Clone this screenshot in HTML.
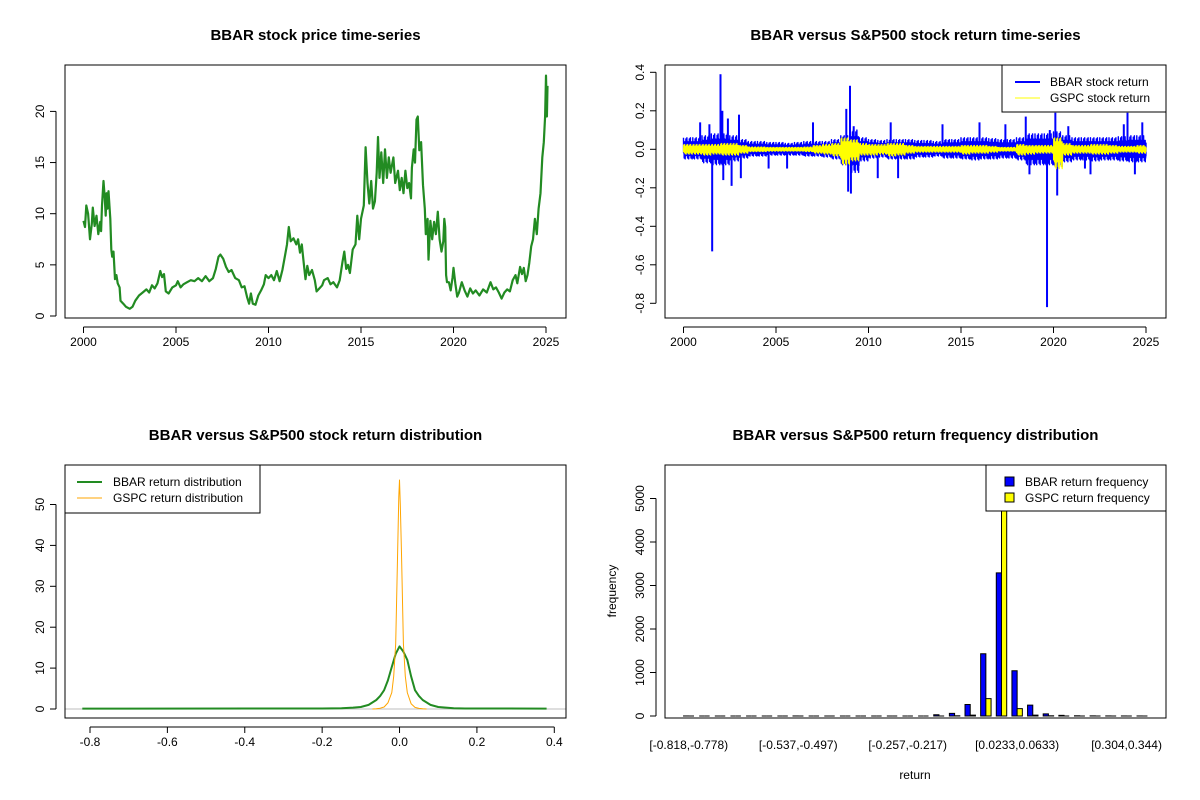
<!DOCTYPE html>
<html><head><meta charset="utf-8"><style>
html,body{margin:0;padding:0;background:#fff;}
svg{display:block;font-family:"Liberation Sans",Arial,sans-serif;}
</style></head><body>
<svg id="chart" width="1200" height="800" viewBox="0 0 1200 800">
<rect width="1200" height="800" fill="#fff"/>
</svg>
<script>
// ---------- DATA ----------
const priceYears=[2000.0,2000.08,2000.15,2000.25,2000.35,2000.45,2000.5,2000.6,2000.7,2000.8,2000.9,2000.95,2001.0,2001.08,2001.15,2001.2,2001.25,2001.3,2001.35,2001.45,2001.5,2001.55,2001.62,2001.7,2001.78,2001.85,2001.95,2002.0,2002.15,2002.3,2002.5,2002.65,2002.8,2003.0,2003.2,2003.4,2003.55,2003.7,2003.85,2004.0,2004.15,2004.25,2004.35,2004.45,2004.6,2004.8,2005.0,2005.1,2005.25,2005.4,2005.6,2005.8,2006.0,2006.2,2006.4,2006.6,2006.8,2007.0,2007.15,2007.3,2007.4,2007.55,2007.7,2007.85,2008.0,2008.2,2008.4,2008.55,2008.7,2008.85,2008.95,2009.05,2009.15,2009.3,2009.45,2009.6,2009.75,2009.85,2010.0,2010.15,2010.3,2010.45,2010.6,2010.75,2010.9,2011.0,2011.1,2011.2,2011.35,2011.5,2011.6,2011.7,2011.8,2011.9,2012.0,2012.1,2012.2,2012.35,2012.5,2012.6,2012.75,2012.9,2013.0,2013.2,2013.35,2013.5,2013.7,2013.85,2014.0,2014.1,2014.2,2014.3,2014.4,2014.55,2014.7,2014.8,2014.9,2015.0,2015.15,2015.25,2015.35,2015.45,2015.55,2015.65,2015.75,2015.85,2015.92,2016.0,2016.1,2016.2,2016.3,2016.4,2016.5,2016.6,2016.75,2016.85,2017.0,2017.1,2017.2,2017.3,2017.4,2017.5,2017.6,2017.7,2017.75,2017.85,2017.92,2018.0,2018.07,2018.15,2018.25,2018.35,2018.45,2018.5,2018.6,2018.65,2018.75,2018.85,2018.95,2019.05,2019.15,2019.25,2019.35,2019.45,2019.5,2019.55,2019.6,2019.65,2019.75,2019.85,2019.95,2020.0,2020.1,2020.2,2020.3,2020.45,2020.6,2020.75,2020.9,2021.05,2021.2,2021.4,2021.6,2021.8,2022.0,2022.15,2022.3,2022.45,2022.6,2022.75,2022.9,2023.05,2023.2,2023.35,2023.45,2023.6,2023.7,2023.8,2023.9,2024.0,2024.1,2024.2,2024.3,2024.4,2024.5,2024.6,2024.7,2024.8,2024.88,2024.95,2025.0,2025.05,2025.08];
const priceVals=[9.3,8.7,10.8,10.0,7.5,9.0,10.6,8.8,9.8,8.0,9.2,8.3,10.8,13.2,11.5,9.8,12.0,10.5,12.2,9.5,6.5,5.8,6.3,3.6,4.0,3.2,2.8,1.5,1.2,0.9,0.7,0.9,1.5,2.0,2.3,2.6,2.3,3.0,2.7,3.2,4.4,3.8,4.1,2.4,2.2,2.8,3.0,3.4,2.8,3.1,3.3,3.5,3.4,3.7,3.4,3.9,3.4,3.7,4.6,5.8,6.0,5.6,4.8,4.3,4.5,3.7,3.5,2.8,2.9,1.8,1.2,2.2,1.2,1.1,2.0,2.5,3.1,4.0,3.7,4.0,3.5,4.4,3.4,4.5,6.0,7.0,8.7,7.3,7.6,7.0,7.5,6.2,7.0,5.2,3.6,4.9,4.0,4.5,3.5,2.4,2.7,3.0,3.5,3.7,3.1,3.3,2.8,3.5,5.3,6.3,4.6,5.0,4.2,6.5,7.0,9.8,7.5,9.5,10.8,16.5,13.0,11.0,13.2,10.5,11.2,14.0,17.5,13.5,16.0,13.0,16.3,13.5,15.5,14.0,15.5,13.0,14.2,12.3,13.5,12.0,14.2,12.5,13.0,11.5,14.5,16.3,15.0,19.2,19.5,16.2,17.0,12.8,10.5,8.0,9.5,5.5,9.3,7.5,9.2,8.0,10.2,7.5,6.3,7.3,9.5,8.7,4.0,3.3,3.3,2.5,3.8,4.7,3.2,1.9,2.3,3.3,2.5,1.9,2.7,2.2,2.5,2.0,2.6,2.3,3.3,2.6,2.8,2.3,1.7,2.3,2.6,2.4,3.5,4.0,3.2,4.8,4.1,4.7,3.4,4.0,5.2,6.8,7.5,9.5,8.0,10.5,12.0,15.5,17.0,19.5,23.5,19.5,22.5];
const priceTicksY=[0,5,10,15,20];
const yearTicks=[2000,2005,2010,2015,2020,2025];

const bandYears=[2000,2000.5,2001,2001.5,2002,2002.5,2003,2003.5,2004,2004.5,2005,2005.5,2006,2006.5,2007,2007.5,2008,2008.5,2009,2009.5,2010,2010.5,2011,2011.5,2012,2012.5,2013,2013.5,2014,2014.5,2015,2015.5,2016,2016.5,2017,2017.5,2018,2018.5,2019,2019.5,2020,2020.5,2021,2021.5,2022,2022.5,2023,2023.5,2024,2024.5,2025];
const bbarHi=[0.06,0.06,0.07,0.08,0.08,0.07,0.05,0.04,0.04,0.035,0.035,0.03,0.035,0.04,0.04,0.04,0.05,0.07,0.1,0.06,0.05,0.045,0.05,0.05,0.05,0.045,0.045,0.04,0.05,0.05,0.06,0.06,0.06,0.055,0.05,0.05,0.06,0.08,0.08,0.08,0.09,0.07,0.06,0.06,0.06,0.06,0.06,0.065,0.07,0.07,0.07];
const bbarLo=[-0.05,-0.05,-0.07,-0.08,-0.08,-0.06,-0.045,-0.035,-0.035,-0.03,-0.03,-0.03,-0.03,-0.035,-0.035,-0.04,-0.05,-0.08,-0.12,-0.06,-0.045,-0.04,-0.05,-0.05,-0.05,-0.04,-0.04,-0.035,-0.045,-0.045,-0.05,-0.055,-0.05,-0.05,-0.045,-0.045,-0.055,-0.08,-0.08,-0.08,-0.09,-0.065,-0.055,-0.055,-0.06,-0.055,-0.055,-0.06,-0.065,-0.065,-0.065];
const gspcHi=[0.025,0.025,0.025,0.025,0.03,0.03,0.02,0.012,0.012,0.01,0.01,0.01,0.01,0.012,0.02,0.025,0.03,0.06,0.05,0.03,0.025,0.025,0.03,0.03,0.02,0.015,0.015,0.015,0.015,0.015,0.02,0.02,0.02,0.015,0.01,0.01,0.025,0.02,0.02,0.02,0.06,0.03,0.02,0.02,0.025,0.025,0.02,0.015,0.015,0.02,0.02];
const gspcLo=[-0.025,-0.025,-0.03,-0.025,-0.03,-0.03,-0.02,-0.012,-0.012,-0.01,-0.01,-0.01,-0.01,-0.012,-0.02,-0.025,-0.035,-0.08,-0.06,-0.03,-0.03,-0.025,-0.035,-0.03,-0.02,-0.015,-0.015,-0.015,-0.015,-0.015,-0.025,-0.02,-0.02,-0.015,-0.01,-0.01,-0.03,-0.025,-0.02,-0.02,-0.1,-0.03,-0.02,-0.02,-0.025,-0.025,-0.02,-0.015,-0.015,-0.02,-0.02];
const spikeYears=[2000.9,2001.4,2001.55,2002.0,2002.1,2002.15,2002.4,2002.6,2003.0,2003.1,2004.6,2005.6,2007.0,2008.8,2008.9,2009.0,2009.05,2009.2,2010.5,2011.2,2011.6,2014.0,2016.0,2017.4,2018.5,2018.7,2019.65,2019.8,2020.1,2020.2,2020.8,2021.7,2022.0,2023.8,2024.0,2024.4,2024.8];
const spikeVals=[0.14,0.13,-0.53,0.39,0.2,-0.16,0.16,-0.19,0.18,-0.15,-0.1,-0.1,0.14,0.21,-0.22,0.33,-0.23,0.12,-0.15,0.14,-0.15,0.13,0.14,0.13,0.17,-0.13,-0.82,0.1,0.19,-0.24,0.12,-0.1,-0.13,0.13,0.19,-0.13,0.14];
const retTicksY=[-0.8,-0.6,-0.4,-0.2,0.0,0.2,0.4];

const densX=[-0.82,-0.2,-0.15,-0.12,-0.1,-0.08,-0.06,-0.05,-0.04,-0.03,-0.02,-0.01,0,0.01,0.02,0.03,0.04,0.05,0.06,0.08,0.1,0.12,0.14,0.17,0.38];
const bbarDens=[0.1,0.12,0.2,0.35,0.5,1.0,2.2,3.2,4.6,7.0,10.3,13.5,15.3,14.0,12.0,8.0,4.6,3.2,2.2,1.0,0.5,0.35,0.2,0.12,0.1];
const gspcDensX=[-0.07,-0.06,-0.05,-0.04,-0.03,-0.02,-0.015,-0.01,-0.005,-0.002,0,0.002,0.005,0.01,0.015,0.02,0.03,0.04,0.05,0.06,0.07];
const gspcDens=[0,0.05,0.2,0.5,1.5,4,8,16,38,52,56,50,38,16,8,4,1.3,0.4,0.15,0.05,0];
const densTicksX=[-0.8,-0.6,-0.4,-0.2,0.0,0.2,0.4];
const densTicksY=[0,10,20,30,40,50];

const binLabels=["[-0.818,-0.778)","[-0.778,-0.738)","[-0.738,-0.698)","[-0.698,-0.658)","[-0.658,-0.618)","[-0.618,-0.578)","[-0.578,-0.537)","[-0.537,-0.497)","[-0.497,-0.457)","[-0.457,-0.417)","[-0.417,-0.377)","[-0.377,-0.337)","[-0.337,-0.297)","[-0.297,-0.257)","[-0.257,-0.217)","[-0.217,-0.177)","[-0.177,-0.137)","[-0.137,-0.0967)","[-0.0967,-0.0567)","[-0.0567,-0.0167)","[-0.0167,0.0233)","[0.0233,0.0633)","[0.0633,0.103)","[0.103,0.143)","[0.143,0.183)","[0.183,0.223)","[0.223,0.263)","[0.263,0.304)","[0.304,0.344)","[0.344,0.384)"];
const bbarFreq=[1,0,0,0,0,0,0,1,0,0,0,0,0,0,0,0,30,60,265,1430,3290,1040,250,50,15,5,3,2,1,1];
const gspcFreq=[0,0,0,0,0,0,0,0,0,0,0,0,0,0,0,0,0,5,20,400,5900,170,20,5,0,0,0,0,0,0];
const freqTicksY=[0,1000,2000,3000,4000,5000];
const shownBins=[0,7,14,21,28];

// ---------- HELPERS ----------
const NS="http://www.w3.org/2000/svg";
const svg=document.getElementById('chart');
function mk(tag,attrs,parent){const e=document.createElementNS(NS,tag);for(const k in attrs)e.setAttribute(k,attrs[k]);(parent||svg).appendChild(e);return e;}
function txt(s,x,y,size,opts,parent){const t=mk('text',Object.assign({x:x,y:y,'font-size':size,'text-anchor':'middle',fill:'#000'},opts||{}),parent);t.textContent=s;return t;}
function lin(d0,d1,r0,r1){return v=>r0+(v-d0)*(r1-r0)/(d1-d0);}
function fmt(v,dec){return v.toFixed(dec);}

function panel(name,L,T,R,B,title){
  const g=mk('g',{});
  
  
  const t=txt(title,(L+R)/2,40,15,{'font-weight':'bold'},g);
  
  
  return g;
}
function frame(g,L,T,R,B,name){
  const r=mk('rect',{x:L,y:T,width:R-L,height:B-T,fill:'none',stroke:'#000','stroke-width':1},g);
  
  
}
function xAxis(g,ticks,sx,B,dec,name){
  const a=mk('g',{},g);
  
  
  mk('line',{x1:sx(ticks[0]),x2:sx(ticks[ticks.length-1]),y1:B+9,y2:B+9,stroke:'#000'},a);
  ticks.forEach(v=>{mk('line',{x1:sx(v),x2:sx(v),y1:B+9,y2:B+15,stroke:'#000'},a);
    const t=txt(fmt(v,dec),sx(v),B+28,12,{},a);
    
    });
}
function yAxis(g,ticks,sy,L,dec,name){
  const a=mk('g',{},g);
  
  
  mk('line',{x1:L-9,x2:L-9,y1:sy(ticks[0]),y2:sy(ticks[ticks.length-1]),stroke:'#000'},a);
  ticks.forEach(v=>{const y=sy(v);mk('line',{x1:L-15,x2:L-9,y1:y,y2:y,stroke:'#000'},a);
    const t=txt(fmt(v,dec),0,0,12,{transform:`translate(${L-21},${y}) rotate(-90)`},a);
    
    });
}
function path(g,xs,ys,sx,sy,color,w,name){
  const d=xs.map((x,i)=>(i?'L':'M')+sx(x).toFixed(1)+','+sy(ys[i]).toFixed(1)).join('');
  const p=mk('path',{d:d,fill:'none',stroke:color,'stroke-width':w,'stroke-linejoin':'round'},g);
  
  
  return p;
}
// texture multipliers for drawing dense daily noise inside the band (styling only)
const tex=[1,0.35,0.7,0.2,0.55,0.9,0.3,0.6,0.15,0.8,0.45,0.25,0.65];

// ---------- PANEL 1: price ----------
(function(){
  const L=65,T=65,R=566,B=318;
  const g=panel('price-panel',L,T,R,B,'BBAR stock price time-series');
  const sx=lin(2000,2025,83.5,546), sy=lin(0,20,316,111.4);
  path(g,priceYears,priceVals,sx,sy,'#228B22',2.2,'bbar-price-line');
  frame(g,L,T,R,B,'price');
  xAxis(g,yearTicks,sx,B,0,'price');
  yAxis(g,priceTicksY,sy,L,0,'price');
})();

// ---------- PANEL 2: returns ----------
(function(){
  const L=665,T=65,R=1166,B=318;
  const g=panel('returns-panel',L,T,R,B,'BBAR versus S&P500 stock return time-series');
  const sx=lin(2000,2025,683.5,1146), sy=lin(0,0.4,149.3,72.3);
  const zx=[],zy=[];
  bandYears.forEach((yr,i)=>{ if(i<bandYears.length-1){const n=70;for(let k=0;k<n;k++){zx.push(yr+k*0.5/n);zy.push((k%2?bbarLo[i]:bbarHi[i])*tex[k%tex.length]);}} else {zx.push(yr);zy.push(bbarHi[i]*0.5);}});
  path(g,zx,zy,sx,sy,'#0000FF',1.4,'bbar-return-line');
  spikeYears.forEach((yr,i)=>{const l=mk('line',{x1:sx(yr),x2:sx(yr),y1:sy(0),y2:sy(spikeVals[i]),stroke:'#0000FF','stroke-width':2},g);
    
    });
  const gx=[],gy=[];
  bandYears.forEach((yr,i)=>{ if(i<bandYears.length-1){const n=80;for(let k=0;k<n;k++){gx.push(yr+k*0.5/n);gy.push((k%2?gspcLo[i]:gspcHi[i])*tex[(k+3)%tex.length]);}} else {gx.push(yr);gy.push(gspcHi[i]*0.5);}});
  path(g,gx,gy,sx,sy,'#FFFF00',1.2,'gspc-return-line');
  frame(g,L,T,R,B,'returns');
  xAxis(g,yearTicks,sx,B,0,'returns');
  yAxis(g,retTicksY,sy,L,1,'returns');
  const lg=mk('g',{},g);
  
  
  mk('rect',{x:1002,y:65,width:164,height:47,fill:'#fff',stroke:'#000'},lg);
  mk('line',{x1:1015,x2:1040,y1:82,y2:82,stroke:'#0000FF','stroke-width':2},lg);
  mk('line',{x1:1015,x2:1040,y1:98,y2:98,stroke:'#FFFF00','stroke-width':1},lg);
  txt('BBAR stock return',1050,86,12,{'text-anchor':'start'},lg);
  txt('GSPC stock return',1050,102,12,{'text-anchor':'start'},lg);
})();

// ---------- PANEL 3: density ----------
(function(){
  const L=65,T=465,R=566,B=718;
  const g=panel('density-panel',L,T,R,B,'BBAR versus S&P500 stock return distribution');
  g.lastChild.setAttribute('y',440);
  const sx=lin(-0.8,0.4,90,554.3), sy=lin(0,50,709,504.5);
  mk('line',{x1:L,x2:R,y1:sy(0),y2:sy(0),stroke:'#BEBEBE'},g);
  path(g,densX,bbarDens,sx,sy,'#228B22',2,'bbar-density-line');
  path(g,gspcDensX,gspcDens,sx,sy,'#FFA500',1,'gspc-density-line');
  frame(g,L,T,R,B,'density');
  xAxis(g,densTicksX,sx,B,1,'density');
  yAxis(g,densTicksY,sy,L,0,'density');
  const lg=mk('g',{},g);
  
  
  mk('rect',{x:65,y:465,width:195,height:48,fill:'#fff',stroke:'#000'},lg);
  mk('line',{x1:77,x2:102,y1:482,y2:482,stroke:'#228B22','stroke-width':2},lg);
  mk('line',{x1:77,x2:102,y1:498,y2:498,stroke:'#FFA500','stroke-width':1},lg);
  txt('BBAR return distribution',113,486,12,{'text-anchor':'start'},lg);
  txt('GSPC return distribution',113,502,12,{'text-anchor':'start'},lg);
})();

// ---------- PANEL 4: histogram bars ----------
(function(){
  const L=665,T=465,R=1166,B=718;
  const g=panel('frequency-panel',L,T,R,B,'BBAR versus S&P500 return frequency distribution');
  g.lastChild.setAttribute('y',440);
  const n=binLabels.length, u0=1-0.04*(3*n-1), u1=3*n+0.04*(3*n-1);
  const su=lin(u0,u1,L,R), sy=lin(0,5000,716,498.5);
  const clip=mk('clipPath',{id:'barclip'},g); mk('rect',{x:L,y:T,width:R-L,height:B-T},clip);
  const bars=mk('g',{'clip-path':'url(#barclip)'},g);
  const bw=su(2)-su(1);
  function barPath(x,v){const y0=sy(0),y1=sy(v);return `M${x},${y0}V${y1}H${x+bw}V${y0}Z`;}
  binLabels.forEach((lab,i)=>{
    const b=mk('path',{d:barPath(su(1+3*i),bbarFreq[i]),fill:'#0000FF',stroke:'#000','stroke-width':1},bars);
    
    
    const y=mk('path',{d:barPath(su(2+3*i),gspcFreq[i]),fill:'#FFFF00',stroke:'#000','stroke-width':1},bars);
    
    
  });
  shownBins.forEach(i=>{const t=txt(binLabels[i],su(2+3*i),749,12,{},g);
    
    });
  frame(g,L,T,R,B,'frequency');
  yAxis(g,freqTicksY,sy,L,0,'frequency');
  const xl=txt('return',915,779,12,{},g);
  
  
  const yl=txt('frequency',0,0,12,{transform:'translate(616,591) rotate(-90)'},g);
  
  
  const lg=mk('g',{},g);
  
  
  mk('rect',{x:986,y:465,width:180,height:46,fill:'#fff',stroke:'#000'},lg);
  mk('rect',{x:1005,y:477,width:9,height:9,fill:'#0000FF',stroke:'#000'},lg);
  mk('rect',{x:1005,y:493,width:9,height:9,fill:'#FFFF00',stroke:'#000'},lg);
  txt('BBAR return frequency',1025,486,12,{'text-anchor':'start'},lg);
  txt('GSPC return frequency',1025,502,12,{'text-anchor':'start'},lg);
})();
</script>
</body></html>
